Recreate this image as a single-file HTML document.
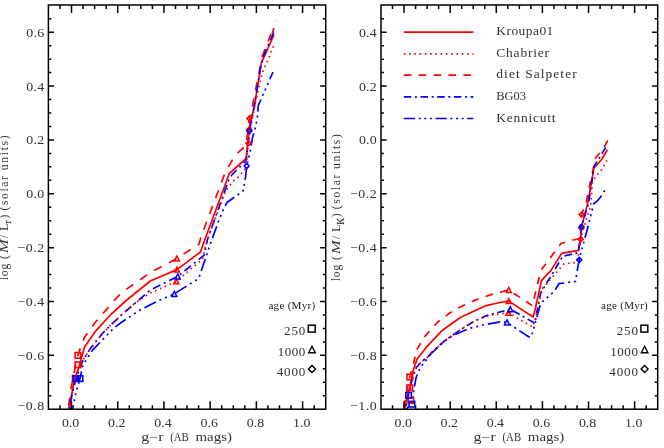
<!DOCTYPE html>
<html><head><meta charset="utf-8"><title>M/L vs colour</title>
<style>html,body{margin:0;padding:0;background:#fff;}svg{display:block;font-family:'Liberation Serif', serif;fill:#333333}</style></head><body>
<svg width="664" height="448" viewBox="0 0 664 448">
<rect width="664" height="448" fill="#fff"/>
<defs><clipPath id="c1"><rect x="48.4" y="5.0" width="277.3" height="404.2"/></clipPath><clipPath id="c2"><rect x="381.0" y="5.0" width="276.7" height="404.2"/></clipPath></defs>
<polyline points="69.5,409.5 73.7,382.0 79.0,367.0 84.5,347.0 94.9,331.9 110.1,315.2 126.8,300.0 150.3,281.0 176.9,269.6 200.4,252.1 204.0,242.0 229.3,173.5 246.2,158.5 247.3,146.0 250.1,123.2 254.4,106.4 261.3,63.2 274.0,34.7" fill="none" stroke="#ff0000" stroke-width="1.7" clip-path="url(#c1)" stroke-linejoin="round"/>
<polyline points="68.0,409.5 71.4,386.5 75.0,368.0 77.9,355.4 81.2,345.5 85.0,336.4 94.9,322.8 105.5,310.6 114.6,300.0 123.0,291.6 150.3,272.6 176.9,258.5 199.0,244.0 201.0,237.0 222.2,180.6 224.6,174.0 234.5,156.0 245.3,146.0 247.5,135.0 249.3,118.6 252.4,106.4 262.2,56.3 273.0,28.8" fill="none" stroke="#ff0000" stroke-width="1.7" stroke-dasharray="8.47 8.36" stroke-dashoffset="13.35" clip-path="url(#c1)" stroke-linejoin="round"/>
<polyline points="68.6,409.5 71.6,396.0 74.4,385.0 75.9,378.6 79.7,369.0 82.8,360.7 90.3,348.6 102.5,333.4 113.1,322.8 123.7,312.9 138.9,300.0 150.3,290.0 177.7,276.4 204.2,255.2 207.3,240.0 229.6,177.5 232.2,174.5 246.0,161.0 247.0,153.5 249.3,131.1 253.9,108.0 260.3,69.1 262.2,59.3 274.0,31.8" fill="none" stroke="#0000ff" stroke-width="1.7" stroke-dasharray="8.25 3.96 2.00 3.96" stroke-dashoffset="11.36" clip-path="url(#c1)" stroke-linejoin="round"/>
<polyline points="72.5,409.5 76.0,392.0 80.0,378.6 82.8,365.3 92.6,350.1 113.1,328.8 120.7,322.8 138.9,310.6 160.0,300.0 174.3,293.9 195.9,280.2 198.9,278.0 202.7,266.6 211.2,241.5 219.0,220.0 224.0,208.0 227.0,202.5 243.0,191.0 245.5,177.5 246.7,166.0 250.1,152.0 252.4,138.3 255.8,126.2 257.4,117.1 258.3,105.5 262.2,96.6 273.0,72.0" fill="none" stroke="#0000ff" stroke-width="1.7" stroke-dasharray="12.66 4.03 2.00 4.03 2.00 4.03 2.00 4.03" stroke-dashoffset="8.21" clip-path="url(#c1)" stroke-linejoin="round"/>
<polyline points="70.0,409.5 72.5,392.0 74.4,378.1 78.0,368.0 82.8,360.7 90.3,348.6 102.5,333.4 113.1,322.8 123.7,312.9 135.2,303.0 150.3,293.1 176.4,281.3 202.7,259.0 205.0,248.0 208.0,238.0 225.5,191.0 232.4,182.0 236.9,178.3 241.0,174.0 244.8,170.2 247.0,158.0 248.6,143.2 252.0,120.0 256.0,100.0 262.2,73.0 269.1,57.3 274.0,44.6" fill="none" stroke="#ff0000" stroke-width="1.7" stroke-dasharray="1.60 3.67" clip-path="url(#c1)" stroke-linejoin="round"/>
<polyline points="404.5,409.5 407.5,395.0 409.7,388.0 413.0,371.0 417.3,358.8 426.6,346.9 442.5,330.2 460.7,317.3 485.0,305.9 500.0,302.5 508.8,301.1 533.1,317.0 535.0,310.0 541.5,280.6 551.0,270.4 561.7,253.3 578.4,250.3 580.7,239.2 581.5,226.8 587.7,203.4 594.0,167.9 601.6,159.5 607.4,149.7" fill="none" stroke="#ff0000" stroke-width="1.7" clip-path="url(#c2)" stroke-linejoin="round"/>
<polyline points="403.5,409.5 406.0,395.0 409.7,377.1 413.5,363.7 416.7,349.9 424.3,337.0 437.9,321.9 450.1,312.8 460.7,306.7 475.9,299.9 491.0,294.6 508.8,290.0 532.4,305.7 538.4,280.0 541.2,270.0 561.0,243.5 573.1,240.0 580.0,238.6 581.5,214.6 586.4,201.2 595.5,158.0 600.0,152.7 604.6,146.6 608.0,139.8" fill="none" stroke="#ff0000" stroke-width="1.7" stroke-dasharray="7.50 7.40" stroke-dashoffset="13.08" clip-path="url(#c2)" stroke-linejoin="round"/>
<polyline points="405.5,409.5 407.0,402.0 408.5,394.8 412.0,380.0 416.0,368.0 421.0,362.0 428.1,356.8 431.9,352.2 445.5,340.1 460.7,329.5 475.9,320.3 488.0,315.0 500.0,312.0 510.3,309.2 534.6,323.1 540.7,292.8 554.1,271.0 562.5,256.4 578.4,252.6 581.5,226.8 588.5,203.4 594.0,166.3 603.1,151.9 606.1,146.6" fill="none" stroke="#0000ff" stroke-width="1.7" stroke-dasharray="7.50 3.60 2.00 3.60" stroke-dashoffset="7.54" clip-path="url(#c2)" stroke-linejoin="round"/>
<polyline points="406.0,409.5 409.0,406.0 412.0,404.0 413.5,392.0 416.0,378.0 420.0,368.0 428.1,357.5 431.9,352.8 445.5,340.5 453.1,335.5 468.3,328.7 483.5,324.9 500.0,321.9 507.0,322.4 528.6,336.8 531.0,337.0 533.1,330.7 540.7,303.4 554.4,291.2 558.9,283.7 575.6,281.4 577.1,271.5 579.2,259.8 582.2,248.0 586.8,231.3 590.6,216.1 593.6,204.0 597.0,201.2 600.8,196.7 606.1,188.4" fill="none" stroke="#0000ff" stroke-width="1.7" stroke-dasharray="12.43 3.96 2.00 3.96 2.00 3.96 2.00 3.96" stroke-dashoffset="8.38" clip-path="url(#c2)" stroke-linejoin="round"/>
<polyline points="404.5,409.5 406.0,402.0 408.2,395.6 411.0,382.0 415.0,370.0 421.0,362.0 428.1,356.8 431.9,352.2 445.5,340.1 460.7,329.5 475.9,320.3 488.0,316.0 500.0,313.8 508.5,312.8 532.4,326.9 536.0,318.0 541.5,289.7 558.0,270.5 564.0,263.9 576.9,262.4 579.0,250.0 580.7,239.2 585.3,222.2 590.6,207.0 592.5,181.5 595.5,177.0 602.4,168.6 606.9,160.3" fill="none" stroke="#ff0000" stroke-width="1.7" stroke-dasharray="1.60 3.67" clip-path="url(#c2)" stroke-linejoin="round"/>
<polyline points="272.4,33.0 273.8,28.0" fill="none" stroke="#ff0000" stroke-width="1.7" clip-path="url(#c1)" stroke-linejoin="round"/>
<circle cx="276.4" cy="21.4" r="0.8" fill="#ff0000" opacity="0.3"/>
<g clip-path="url(#c1)">
<rect x="75.1" y="352.6" width="5.6" height="5.6" fill="none" stroke="#ff0000" stroke-width="1.6"/>
<rect x="75.1" y="362.0" width="5.6" height="5.6" fill="none" stroke="#ff0000" stroke-width="1.6"/>
<rect x="72.5" y="375.5" width="5.6" height="5.6" fill="none" stroke="#ff0000" stroke-width="1.6"/>
<rect x="73.1" y="375.8" width="5.6" height="5.6" fill="none" stroke="#0000ff" stroke-width="1.6"/>
<rect x="77.2" y="375.8" width="5.6" height="5.6" fill="none" stroke="#0000ff" stroke-width="1.6"/>
<polygon points="176.9,256.0 179.4,261.0 174.4,261.0" fill="none" stroke="#ff0000" stroke-width="1.5"/>
<polygon points="176.9,267.1 179.4,272.1 174.4,272.1" fill="none" stroke="#ff0000" stroke-width="1.5"/>
<polygon points="176.4,278.8 178.9,283.8 173.9,283.8" fill="none" stroke="#ff0000" stroke-width="1.5"/>
<polygon points="177.7,273.9 180.2,278.9 175.2,278.9" fill="none" stroke="#0000ff" stroke-width="1.5"/>
<polygon points="174.3,291.4 176.8,296.4 171.8,296.4" fill="none" stroke="#0000ff" stroke-width="1.5"/>
<polygon points="249.3,116.0 251.9,118.6 249.3,121.1 246.8,118.6" fill="none" stroke="#ff0000" stroke-width="1.5"/>
<polygon points="249.2,127.0 251.8,129.5 249.2,132.1 246.6,129.5" fill="none" stroke="#ff0000" stroke-width="1.5"/>
<polygon points="248.6,140.6 251.2,143.2 248.6,145.8 246.0,143.2" fill="none" stroke="#ff0000" stroke-width="1.5"/>
<polygon points="249.3,128.5 251.9,131.1 249.3,133.7 246.8,131.1" fill="none" stroke="#0000ff" stroke-width="1.5"/>
<polygon points="246.7,163.4 249.2,166.0 246.7,168.6 244.1,166.0" fill="none" stroke="#0000ff" stroke-width="1.5"/>
</g>
<g clip-path="url(#c2)">
<rect x="407.0" y="374.2" width="5.6" height="5.6" fill="none" stroke="#ff0000" stroke-width="1.6"/>
<rect x="407.0" y="385.0" width="5.6" height="5.6" fill="none" stroke="#ff0000" stroke-width="1.6"/>
<rect x="408.0" y="397.5" width="5.6" height="5.6" fill="none" stroke="#ff0000" stroke-width="1.6"/>
<rect x="405.8" y="392.5" width="5.6" height="5.6" fill="none" stroke="#0000ff" stroke-width="1.6"/>
<rect x="409.1" y="401.4" width="5.6" height="5.6" fill="none" stroke="#0000ff" stroke-width="1.6"/>
<polygon points="508.8,287.5 511.3,292.5 506.3,292.5" fill="none" stroke="#ff0000" stroke-width="1.5"/>
<polygon points="508.8,298.6 511.3,303.6 506.3,303.6" fill="none" stroke="#ff0000" stroke-width="1.5"/>
<polygon points="508.5,310.3 511.0,315.3 506.0,315.3" fill="none" stroke="#ff0000" stroke-width="1.5"/>
<polygon points="510.3,306.7 512.8,311.7 507.8,311.7" fill="none" stroke="#0000ff" stroke-width="1.5"/>
<polygon points="507.0,319.9 509.5,324.9 504.5,324.9" fill="none" stroke="#0000ff" stroke-width="1.5"/>
<polygon points="581.5,212.0 584.0,214.6 581.5,217.2 579.0,214.6" fill="none" stroke="#ff0000" stroke-width="1.5"/>
<polygon points="581.3,225.4 583.8,228.0 581.3,230.6 578.8,228.0" fill="none" stroke="#ff0000" stroke-width="1.5"/>
<polygon points="580.7,236.6 583.2,239.2 580.7,241.8 578.2,239.2" fill="none" stroke="#ff0000" stroke-width="1.5"/>
<polygon points="581.5,224.2 584.0,226.8 581.5,229.4 579.0,226.8" fill="none" stroke="#0000ff" stroke-width="1.5"/>
<polygon points="579.2,257.2 581.8,259.8 579.2,262.4 576.7,259.8" fill="none" stroke="#0000ff" stroke-width="1.5"/>
</g>
<rect x="48.40" y="5.00" width="277.30" height="404.20" fill="none" stroke="#000" stroke-width="1.5"/>
<path d="M59.95 409.20L59.95 405.20M59.95 5.00L59.95 9.00M71.51 409.20L71.51 401.20M71.51 5.00L71.51 13.00M83.06 409.20L83.06 405.20M83.06 5.00L83.06 9.00M94.62 409.20L94.62 405.20M94.62 5.00L94.62 9.00M106.17 409.20L106.17 405.20M106.17 5.00L106.17 9.00M117.73 409.20L117.73 401.20M117.73 5.00L117.73 13.00M129.28 409.20L129.28 405.20M129.28 5.00L129.28 9.00M140.83 409.20L140.83 405.20M140.83 5.00L140.83 9.00M152.39 409.20L152.39 405.20M152.39 5.00L152.39 9.00M163.94 409.20L163.94 401.20M163.94 5.00L163.94 13.00M175.50 409.20L175.50 405.20M175.50 5.00L175.50 9.00M187.05 409.20L187.05 405.20M187.05 5.00L187.05 9.00M198.60 409.20L198.60 405.20M198.60 5.00L198.60 9.00M210.16 409.20L210.16 401.20M210.16 5.00L210.16 13.00M221.71 409.20L221.71 405.20M221.71 5.00L221.71 9.00M233.27 409.20L233.27 405.20M233.27 5.00L233.27 9.00M244.82 409.20L244.82 405.20M244.82 5.00L244.82 9.00M256.38 409.20L256.38 401.20M256.38 5.00L256.38 13.00M267.93 409.20L267.93 405.20M267.93 5.00L267.93 9.00M279.48 409.20L279.48 405.20M279.48 5.00L279.48 9.00M291.04 409.20L291.04 405.20M291.04 5.00L291.04 9.00M302.59 409.20L302.59 401.20M302.59 5.00L302.59 13.00M314.15 409.20L314.15 405.20M314.15 5.00L314.15 9.00M48.40 18.76L51.30 18.76M325.70 18.76L322.80 18.76M48.40 32.23L54.00 32.23M325.70 32.23L320.10 32.23M48.40 45.69L51.30 45.69M325.70 45.69L322.80 45.69M48.40 59.15L51.30 59.15M325.70 59.15L322.80 59.15M48.40 72.62L51.30 72.62M325.70 72.62L322.80 72.62M48.40 86.08L54.00 86.08M325.70 86.08L320.10 86.08M48.40 99.54L51.30 99.54M325.70 99.54L322.80 99.54M48.40 113.01L51.30 113.01M325.70 113.01L322.80 113.01M48.40 126.47L51.30 126.47M325.70 126.47L322.80 126.47M48.40 139.93L54.00 139.93M325.70 139.93L320.10 139.93M48.40 153.40L51.30 153.40M325.70 153.40L322.80 153.40M48.40 166.86L51.30 166.86M325.70 166.86L322.80 166.86M48.40 180.32L51.30 180.32M325.70 180.32L322.80 180.32M48.40 193.79L54.00 193.79M325.70 193.79L320.10 193.79M48.40 207.25L51.30 207.25M325.70 207.25L322.80 207.25M48.40 220.71L51.30 220.71M325.70 220.71L322.80 220.71M48.40 234.18L51.30 234.18M325.70 234.18L322.80 234.18M48.40 247.64L54.00 247.64M325.70 247.64L320.10 247.64M48.40 261.10L51.30 261.10M325.70 261.10L322.80 261.10M48.40 274.57L51.30 274.57M325.70 274.57L322.80 274.57M48.40 288.03L51.30 288.03M325.70 288.03L322.80 288.03M48.40 301.49L54.00 301.49M325.70 301.49L320.10 301.49M48.40 314.96L51.30 314.96M325.70 314.96L322.80 314.96M48.40 328.42L51.30 328.42M325.70 328.42L322.80 328.42M48.40 341.88L51.30 341.88M325.70 341.88L322.80 341.88M48.40 355.35L54.00 355.35M325.70 355.35L320.10 355.35M48.40 368.81L51.30 368.81M325.70 368.81L322.80 368.81M48.40 382.27L51.30 382.27M325.70 382.27L322.80 382.27M48.40 395.74L51.30 395.74M325.70 395.74L322.80 395.74" stroke="#000" stroke-width="1.5" fill="none"/>
<rect x="381.00" y="5.00" width="276.70" height="404.20" fill="none" stroke="#000" stroke-width="1.5"/>
<path d="M392.53 409.20L392.53 405.20M392.53 5.00L392.53 9.00M404.06 409.20L404.06 401.20M404.06 5.00L404.06 13.00M415.59 409.20L415.59 405.20M415.59 5.00L415.59 9.00M427.12 409.20L427.12 405.20M427.12 5.00L427.12 9.00M438.65 409.20L438.65 405.20M438.65 5.00L438.65 9.00M450.18 409.20L450.18 401.20M450.18 5.00L450.18 13.00M461.70 409.20L461.70 405.20M461.70 5.00L461.70 9.00M473.23 409.20L473.23 405.20M473.23 5.00L473.23 9.00M484.76 409.20L484.76 405.20M484.76 5.00L484.76 9.00M496.29 409.20L496.29 401.20M496.29 5.00L496.29 13.00M507.82 409.20L507.82 405.20M507.82 5.00L507.82 9.00M519.35 409.20L519.35 405.20M519.35 5.00L519.35 9.00M530.88 409.20L530.88 405.20M530.88 5.00L530.88 9.00M542.41 409.20L542.41 401.20M542.41 5.00L542.41 13.00M553.94 409.20L553.94 405.20M553.94 5.00L553.94 9.00M565.47 409.20L565.47 405.20M565.47 5.00L565.47 9.00M577.00 409.20L577.00 405.20M577.00 5.00L577.00 9.00M588.53 409.20L588.53 401.20M588.53 5.00L588.53 13.00M600.05 409.20L600.05 405.20M600.05 5.00L600.05 9.00M611.58 409.20L611.58 405.20M611.58 5.00L611.58 9.00M623.11 409.20L623.11 405.20M623.11 5.00L623.11 9.00M634.64 409.20L634.64 401.20M634.64 5.00L634.64 13.00M646.17 409.20L646.17 405.20M646.17 5.00L646.17 9.00M381.00 18.76L383.90 18.76M657.70 18.76L654.80 18.76M381.00 32.23L386.60 32.23M657.70 32.23L652.10 32.23M381.00 45.69L383.90 45.69M657.70 45.69L654.80 45.69M381.00 59.15L383.90 59.15M657.70 59.15L654.80 59.15M381.00 72.62L383.90 72.62M657.70 72.62L654.80 72.62M381.00 86.08L386.60 86.08M657.70 86.08L652.10 86.08M381.00 99.54L383.90 99.54M657.70 99.54L654.80 99.54M381.00 113.01L383.90 113.01M657.70 113.01L654.80 113.01M381.00 126.47L383.90 126.47M657.70 126.47L654.80 126.47M381.00 139.93L386.60 139.93M657.70 139.93L652.10 139.93M381.00 153.40L383.90 153.40M657.70 153.40L654.80 153.40M381.00 166.86L383.90 166.86M657.70 166.86L654.80 166.86M381.00 180.32L383.90 180.32M657.70 180.32L654.80 180.32M381.00 193.79L386.60 193.79M657.70 193.79L652.10 193.79M381.00 207.25L383.90 207.25M657.70 207.25L654.80 207.25M381.00 220.71L383.90 220.71M657.70 220.71L654.80 220.71M381.00 234.18L383.90 234.18M657.70 234.18L654.80 234.18M381.00 247.64L386.60 247.64M657.70 247.64L652.10 247.64M381.00 261.10L383.90 261.10M657.70 261.10L654.80 261.10M381.00 274.57L383.90 274.57M657.70 274.57L654.80 274.57M381.00 288.03L383.90 288.03M657.70 288.03L654.80 288.03M381.00 301.49L386.60 301.49M657.70 301.49L652.10 301.49M381.00 314.96L383.90 314.96M657.70 314.96L654.80 314.96M381.00 328.42L383.90 328.42M657.70 328.42L654.80 328.42M381.00 341.88L383.90 341.88M657.70 341.88L654.80 341.88M381.00 355.35L386.60 355.35M657.70 355.35L652.10 355.35M381.00 368.81L383.90 368.81M657.70 368.81L654.80 368.81M381.00 382.27L383.90 382.27M657.70 382.27L654.80 382.27M381.00 395.74L383.90 395.74M657.70 395.74L654.80 395.74" stroke="#000" stroke-width="1.5" fill="none"/>
<line x1="403.8" y1="32.1" x2="473.3" y2="32.1" stroke="#ff0000" stroke-width="1.7"/>
<line x1="403.8" y1="53.8" x2="473.3" y2="53.8" stroke="#ff0000" stroke-width="1.7" stroke-dasharray="1.6 3.67"/>
<line x1="403.8" y1="75.2" x2="473.3" y2="75.2" stroke="#ff0000" stroke-width="1.7" stroke-dasharray="7.5 7.4"/>
<line x1="403.8" y1="96.9" x2="473.3" y2="96.9" stroke="#0000ff" stroke-width="1.7" stroke-dasharray="7.5 3.6 2 3.6"/>
<line x1="403.8" y1="118.5" x2="473.3" y2="118.5" stroke="#0000ff" stroke-width="1.7" stroke-dasharray="11.3 3.6 2 3.6 2 3.6 2 3.6"/>
<rect x="640.9" y="325.2" width="6.9" height="6.9" fill="none" stroke="#000" stroke-width="1.5"/>
<polygon points="644.6,346.2 647.9,352.8 641.3,352.8" fill="none" stroke="#000" stroke-width="1.4"/>
<polygon points="644.6,365.6 648.1,369.1 644.6,372.6 641.1,369.1" fill="none" stroke="#000" stroke-width="1.4"/>
<rect x="308.3" y="325.2" width="6.9" height="6.9" fill="none" stroke="#000" stroke-width="1.5"/>
<polygon points="312.0,346.2 315.3,352.8 308.7,352.8" fill="none" stroke="#000" stroke-width="1.4"/>
<polygon points="312.0,365.6 315.5,369.1 312.0,372.6 308.5,369.1" fill="none" stroke="#000" stroke-width="1.4"/>
<g style="filter:grayscale(1)">
<text transform="translate(70.6,426.6) scale(1,0.920)" font-size="13.91" text-anchor="middle" textLength="17.4" lengthAdjust="spacing">0.0</text>
<text transform="translate(116.8,426.6) scale(1,0.920)" font-size="13.91" text-anchor="middle" textLength="17.4" lengthAdjust="spacing">0.2</text>
<text transform="translate(163.0,426.6) scale(1,0.920)" font-size="13.91" text-anchor="middle" textLength="17.4" lengthAdjust="spacing">0.4</text>
<text transform="translate(209.3,426.6) scale(1,0.920)" font-size="13.91" text-anchor="middle" textLength="17.4" lengthAdjust="spacing">0.6</text>
<text transform="translate(255.5,426.6) scale(1,0.920)" font-size="13.91" text-anchor="middle" textLength="17.4" lengthAdjust="spacing">0.8</text>
<text transform="translate(301.7,426.6) scale(1,0.920)" font-size="13.91" text-anchor="middle" textLength="17.4" lengthAdjust="spacing">1.0</text>
<text transform="translate(44.1,36.7) scale(1,0.920)" font-size="13.91" text-anchor="end" textLength="17.8" lengthAdjust="spacing">0.6</text>
<text transform="translate(44.1,90.6) scale(1,0.920)" font-size="13.91" text-anchor="end" textLength="17.8" lengthAdjust="spacing">0.4</text>
<text transform="translate(44.1,144.4) scale(1,0.920)" font-size="13.91" text-anchor="end" textLength="17.8" lengthAdjust="spacing">0.2</text>
<text transform="translate(44.1,198.3) scale(1,0.920)" font-size="13.91" text-anchor="end" textLength="17.8" lengthAdjust="spacing">0.0</text>
<text transform="translate(44.1,252.1) scale(1,0.920)" font-size="13.91" text-anchor="end" textLength="26.8" lengthAdjust="spacing">−0.2</text>
<text transform="translate(44.1,306.0) scale(1,0.920)" font-size="13.91" text-anchor="end" textLength="26.8" lengthAdjust="spacing">−0.4</text>
<text transform="translate(44.1,359.8) scale(1,0.920)" font-size="13.91" text-anchor="end" textLength="26.8" lengthAdjust="spacing">−0.6</text>
<text transform="translate(44.1,410.2) scale(1,0.920)" font-size="13.91" text-anchor="end" textLength="26.8" lengthAdjust="spacing">−0.8</text>
<text transform="translate(141.3,441.0) scale(1,0.920)" font-size="13.04" text-anchor="start" textLength="22.3" lengthAdjust="spacingAndGlyphs">g−r</text>
<text transform="translate(170.2,441.0) scale(1,0.920)" font-size="13.04" text-anchor="start" textLength="18.6" lengthAdjust="spacingAndGlyphs">(AB</text>
<text transform="translate(195.5,441.0) scale(1,0.920)" font-size="13.04" text-anchor="start" textLength="36.4" lengthAdjust="spacingAndGlyphs">mags)</text>
<text transform="translate(403.2,426.6) scale(1,0.920)" font-size="13.91" text-anchor="middle" textLength="17.4" lengthAdjust="spacing">0.0</text>
<text transform="translate(449.3,426.6) scale(1,0.920)" font-size="13.91" text-anchor="middle" textLength="17.4" lengthAdjust="spacing">0.2</text>
<text transform="translate(495.4,426.6) scale(1,0.920)" font-size="13.91" text-anchor="middle" textLength="17.4" lengthAdjust="spacing">0.4</text>
<text transform="translate(541.5,426.6) scale(1,0.920)" font-size="13.91" text-anchor="middle" textLength="17.4" lengthAdjust="spacing">0.6</text>
<text transform="translate(587.6,426.6) scale(1,0.920)" font-size="13.91" text-anchor="middle" textLength="17.4" lengthAdjust="spacing">0.8</text>
<text transform="translate(633.7,426.6) scale(1,0.920)" font-size="13.91" text-anchor="middle" textLength="17.4" lengthAdjust="spacing">1.0</text>
<text transform="translate(376.7,36.7) scale(1,0.920)" font-size="13.91" text-anchor="end" textLength="17.8" lengthAdjust="spacing">0.4</text>
<text transform="translate(376.7,90.6) scale(1,0.920)" font-size="13.91" text-anchor="end" textLength="17.8" lengthAdjust="spacing">0.2</text>
<text transform="translate(376.7,144.4) scale(1,0.920)" font-size="13.91" text-anchor="end" textLength="17.8" lengthAdjust="spacing">0.0</text>
<text transform="translate(376.7,198.3) scale(1,0.920)" font-size="13.91" text-anchor="end" textLength="26.8" lengthAdjust="spacing">−0.2</text>
<text transform="translate(376.7,252.1) scale(1,0.920)" font-size="13.91" text-anchor="end" textLength="26.8" lengthAdjust="spacing">−0.4</text>
<text transform="translate(376.7,306.0) scale(1,0.920)" font-size="13.91" text-anchor="end" textLength="26.8" lengthAdjust="spacing">−0.6</text>
<text transform="translate(376.7,359.8) scale(1,0.920)" font-size="13.91" text-anchor="end" textLength="26.8" lengthAdjust="spacing">−0.8</text>
<text transform="translate(376.7,410.2) scale(1,0.920)" font-size="13.91" text-anchor="end" textLength="26.8" lengthAdjust="spacing">−1.0</text>
<text transform="translate(473.6,441.0) scale(1,0.920)" font-size="13.04" text-anchor="start" textLength="22.3" lengthAdjust="spacingAndGlyphs">g−r</text>
<text transform="translate(502.5,441.0) scale(1,0.920)" font-size="13.04" text-anchor="start" textLength="18.6" lengthAdjust="spacingAndGlyphs">(AB</text>
<text transform="translate(527.8,441.0) scale(1,0.920)" font-size="13.04" text-anchor="start" textLength="36.4" lengthAdjust="spacingAndGlyphs">mags)</text>
<g transform="translate(8.1,0) rotate(-90)" font-size="11.6">
<text x="-280.3" y="0" textLength="25.3" lengthAdjust="spacing">log (</text>
<text x="-253.2" y="0" textLength="14.0" lengthAdjust="spacingAndGlyphs" font-style="italic" font-size="12.5">M</text>
<text x="-238.2" y="0" textLength="14.5" lengthAdjust="spacing">/L</text>
<text x="-223.7" y="3.2" font-size="9.6" stroke="#2a2a2a" stroke-width="0.2">r</text>
<text x="-218.5" y="0" textLength="4.4" lengthAdjust="spacing">)</text>
<text x="-210.5" y="0" textLength="34.5" lengthAdjust="spacing">(solar</text>
<text x="-170.2" y="0" textLength="34.8" lengthAdjust="spacing">units)</text>
</g>
<g transform="translate(340.3,0) rotate(-90)" font-size="11.6">
<text x="-281.3" y="0" textLength="25.3" lengthAdjust="spacing">log (</text>
<text x="-254.2" y="0" textLength="14.0" lengthAdjust="spacingAndGlyphs" font-style="italic" font-size="12.5">M</text>
<text x="-239.2" y="0" textLength="14.5" lengthAdjust="spacing">/L</text>
<text x="-224.7" y="3.2" font-size="9.6" stroke="#2a2a2a" stroke-width="0.2">K</text>
<text x="-217.2" y="0" textLength="4.4" lengthAdjust="spacing">)</text>
<text x="-209.2" y="0" textLength="34.5" lengthAdjust="spacing">(solar</text>
<text x="-168.9" y="0" textLength="34.8" lengthAdjust="spacing">units)</text>
</g>
<text transform="translate(496.3,35.1) scale(1,0.920)" font-size="13.48" text-anchor="start" textLength="57.0" lengthAdjust="spacing">Kroupa01</text>
<text transform="translate(496.3,56.8) scale(1,0.920)" font-size="13.48" text-anchor="start" textLength="52.7" lengthAdjust="spacing">Chabrier</text>
<text transform="translate(496.3,78.2) scale(1,0.920)" font-size="13.48" text-anchor="start" textLength="80.4" lengthAdjust="spacing">diet Salpeter</text>
<text transform="translate(496.3,99.9) scale(1,0.920)" font-size="13.48" text-anchor="start" textLength="29.8" lengthAdjust="spacingAndGlyphs">BG03</text>
<text transform="translate(496.3,121.5) scale(1,0.920)" font-size="13.48" text-anchor="start" textLength="59.3" lengthAdjust="spacing">Kennicutt</text>
<text transform="translate(647.8,309.3) scale(1,0.920)" font-size="11.09" text-anchor="end" textLength="46.8" lengthAdjust="spacing" fill="#1c1c1c">age (Myr)</text>
<text transform="translate(637.9,334.5) scale(1,0.920)" font-size="13.04" text-anchor="end" textLength="21.2" lengthAdjust="spacing">250</text>
<text transform="translate(637.9,355.5) scale(1,0.920)" font-size="13.04" text-anchor="end" textLength="27.6" lengthAdjust="spacing">1000</text>
<text transform="translate(637.9,375.5) scale(1,0.920)" font-size="13.04" text-anchor="end" textLength="28.6" lengthAdjust="spacing">4000</text>
<text transform="translate(315.2,309.3) scale(1,0.920)" font-size="11.09" text-anchor="end" textLength="46.8" lengthAdjust="spacing" fill="#1c1c1c">age (Myr)</text>
<text transform="translate(305.3,334.5) scale(1,0.920)" font-size="13.04" text-anchor="end" textLength="21.2" lengthAdjust="spacing">250</text>
<text transform="translate(305.3,355.5) scale(1,0.920)" font-size="13.04" text-anchor="end" textLength="27.6" lengthAdjust="spacing">1000</text>
<text transform="translate(305.3,375.5) scale(1,0.920)" font-size="13.04" text-anchor="end" textLength="28.6" lengthAdjust="spacing">4000</text>
</g>
</svg></body></html>
